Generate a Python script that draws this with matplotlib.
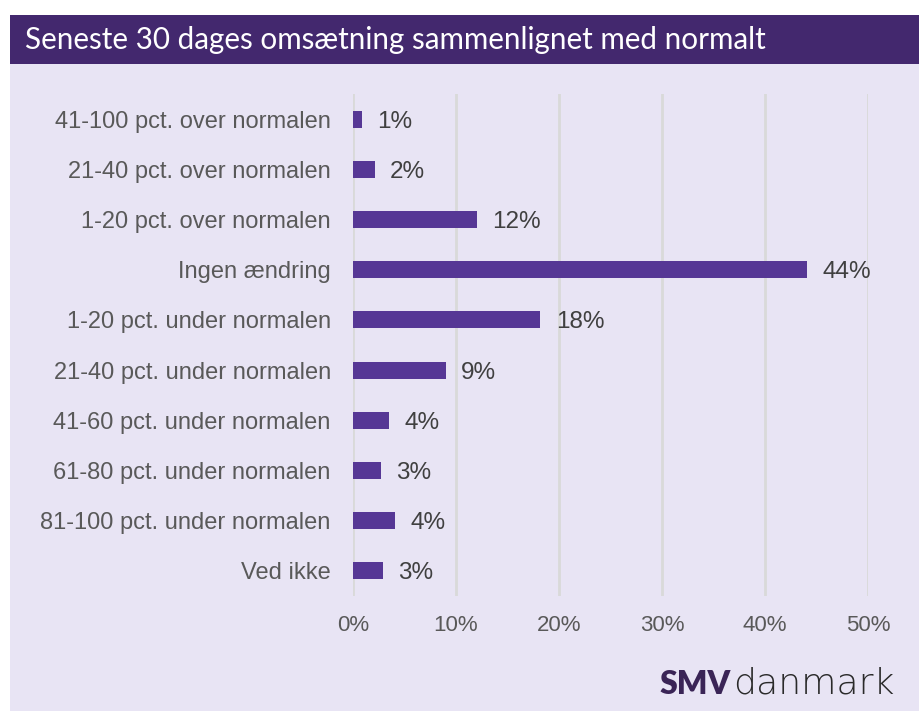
import matplotlib.pyplot as plt
from matplotlib.patches import Rectangle

categories = ['41-100 pct. over normalen', '21-40 pct. over normalen', '1-20 pct. over normalen',
              'Ingen ændring', '1-20 pct. under normalen', '21-40 pct. under normalen',
              '41-60 pct. under normalen', '61-80 pct. under normalen', '81-100 pct. under normalen',
              'Ved ikke']
values = [0.9, 2.1, 12.0, 44.1, 18.2, 9.0, 3.5, 2.7, 4.1, 2.9]
value_labels = ['1%', '2%', '12%', '44%', '18%', '9%', '4%', '3%', '4%', '3%']
xticks = [0, 10, 20, 30, 40, 50]

W, H = 920, 711
fig = plt.figure(figsize=(W / 100, H / 100), dpi=100)
fig.patch.set_facecolor('white')

# panel + title banner
fig.add_artist(Rectangle((10 / W, 0), 1 - 10 / W, 1 - 15 / H, transform=fig.transFigure,
                         facecolor='#E8E4F4', edgecolor='none', zorder=0))
fig.add_artist(Rectangle((10 / W, 1 - 64 / H), 1 - 10 / W, 49 / H, transform=fig.transFigure,
                         facecolor='#43286E', edgecolor='none', zorder=0))
fig.text(25 / W, 1 - 40 / H, 'Seneste 30 dages omsætning sammenlignet med normalt',
         color='white', fontsize=21.3, family='Lato', va='center', ha='left')

ax = fig.add_axes([353 / W, 1 - 596 / H, (868 - 353) / W, 502 / H])
ax.set_facecolor('none')
y = list(range(len(categories)))
bars = ax.barh(y, values, height=0.34, color='#563795', zorder=3)
lbls = ax.bar_label(bars, labels=value_labels, padding=11, fontsize=17.5, color='#404040',
                    family='Liberation Sans')
for t in lbls:
    t.set_va('center_baseline')

ax.set_ylim(len(categories) - 0.5, -0.5)
ax.set_xlim(0, 50)
ax.set_yticks(y)
ax.set_yticklabels(categories, fontsize=17, color='#595959', family='Liberation Sans',
                   va='center_baseline')
ax.set_xticks(xticks)
ax.set_xticklabels([f'{t}%' for t in xticks], fontsize=16, color='#595959',
                   family='Liberation Sans')
ax.tick_params(length=0)
ax.tick_params(axis='y', pad=16)
ax.tick_params(axis='x', pad=14)
ax.grid(axis='x', color='#D9D9D9', linewidth=2, zorder=0)
for s in ax.spines.values():
    s.set_visible(False)

# logo
fig.text(731 / W, 1 - 684 / H, 'SMV', color='#3A2456', fontsize=23, family='Lato',
         weight='heavy', va='center', ha='right')
fig.text(733 / W, 1 - 684 / H, 'danmark', color='#2a2a2a', fontsize=26, family='DejaVu Sans',
         weight='light', va='center', ha='left')

fig.savefig('out.png', dpi=100)
